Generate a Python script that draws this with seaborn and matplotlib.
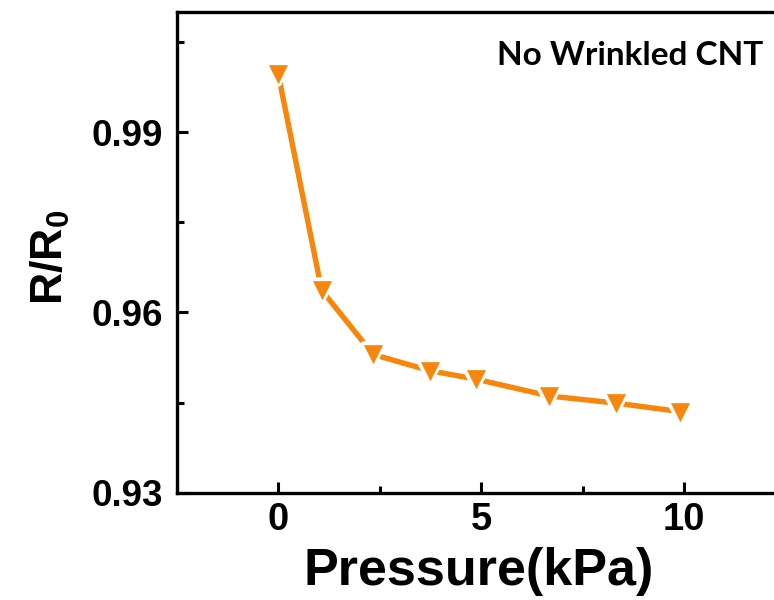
import matplotlib
matplotlib.use("Agg")
import matplotlib.pyplot as plt
from matplotlib.ticker import MultipleLocator, FixedLocator, FormatStrFormatter
from matplotlib.markers import MarkerStyle
import seaborn as sns
import pandas as pd

# ---- data ----
pressure = [0.0, 1.07, 2.34, 3.74, 4.87, 6.67, 8.33, 9.89]
r_ratio = [0.9997, 0.9637, 0.9530, 0.9503, 0.9489, 0.9461, 0.9449, 0.9435]
x_ticks = [0, 5, 10]
y_ticks = [0.93, 0.96, 0.99]
annotation = "No Wrinkled CNT"
x_label = "Pressure(kPa)"
y_label = r"$\mathbf{R/R_0}$"

df = pd.DataFrame({"P": pressure, "R": r_ratio})

sns.set_style("ticks")
plt.rcParams["font.family"] = ["Liberation Sans", "DejaVu Sans"]
plt.rcParams["font.weight"] = "bold"
plt.rcParams["mathtext.fontset"] = "custom"
plt.rcParams["mathtext.bf"] = "Liberation Sans:bold"
plt.rcParams["mathtext.rm"] = "Liberation Sans:bold"
for k in ["text.color", "axes.labelcolor", "xtick.color", "ytick.color",
          "axes.edgecolor", "xtick.labelcolor", "ytick.labelcolor"]:
    plt.rcParams[k] = "black"

color = "#F8860D"
W, H = 774, 600
fig = plt.figure(figsize=(W / 100, H / 100), dpi=100)
left, right, bottom, top = 176.7, 785.8, 492.7, 12.0
ax = fig.add_axes([left / W, 1 - bottom / H, (right - left) / W, (bottom - top) / H])

tri = MarkerStyle("v", joinstyle="round")
# line
sns.lineplot(data=df, x="P", y="R", ax=ax, color=color, linewidth=3.9,
             sort=False, zorder=2)
# white halo around markers (gap between line and symbol)
sns.lineplot(data=df, x="P", y="R", ax=ax, color="white", linestyle="none",
             marker=tri, markersize=12.5, markerfacecolor="white",
             markeredgecolor="white", markeredgewidth=5.5, sort=False, zorder=3)
# markers
sns.lineplot(data=df, x="P", y="R", ax=ax, color=color, linestyle="none",
             marker=MarkerStyle("v"), markersize=12.5, markerfacecolor=color,
             markeredgecolor=color, markeredgewidth=0.5, sort=False, zorder=4)

ax.set_xlim(-2.5, 12.5)
ax.set_ylim(0.93, 1.01)
ax.xaxis.set_major_locator(FixedLocator(x_ticks))
ax.xaxis.set_minor_locator(MultipleLocator(2.5))
ax.yaxis.set_major_locator(FixedLocator(y_ticks))
ax.yaxis.set_minor_locator(MultipleLocator(0.015))
ax.yaxis.set_major_formatter(FormatStrFormatter("%.2f"))

for s in ["left", "bottom", "top", "right"]:
    ax.spines[s].set_linewidth(2.4)
    ax.spines[s].set_color("black")

ax.tick_params(axis="both", which="both", direction="in", top=False, right=False,
               width=2.2, color="black", labelcolor="black")
ax.tick_params(axis="both", which="major", length=8)
ax.tick_params(axis="both", which="minor", length=5)
ax.tick_params(axis="y", which="major", labelsize=26.5, pad=10)
ax.tick_params(axis="x", which="major", labelsize=27.5, pad=7)
for lab in ax.get_xticklabels() + ax.get_yticklabels():
    lab.set_fontweight("bold")

ax.set_xlabel(x_label, fontsize=37.5, fontweight="bold", color="black")
ax.xaxis.label.set_va("baseline")
ax.xaxis.set_label_coords(0.495, (bottom - 585) / (bottom - top))

ax.set_ylabel(y_label, fontsize=32, color="black")
ax.yaxis.set_label_coords((72 - left) / (right - left), 0.489)

fig.text(763.3 / W, 1 - 65 / H, annotation, ha="right", va="baseline",
         fontsize=24, fontweight="bold", family=["Lato", "DejaVu Sans"],
         color="black")

fig.savefig("out.png", dpi=100)
